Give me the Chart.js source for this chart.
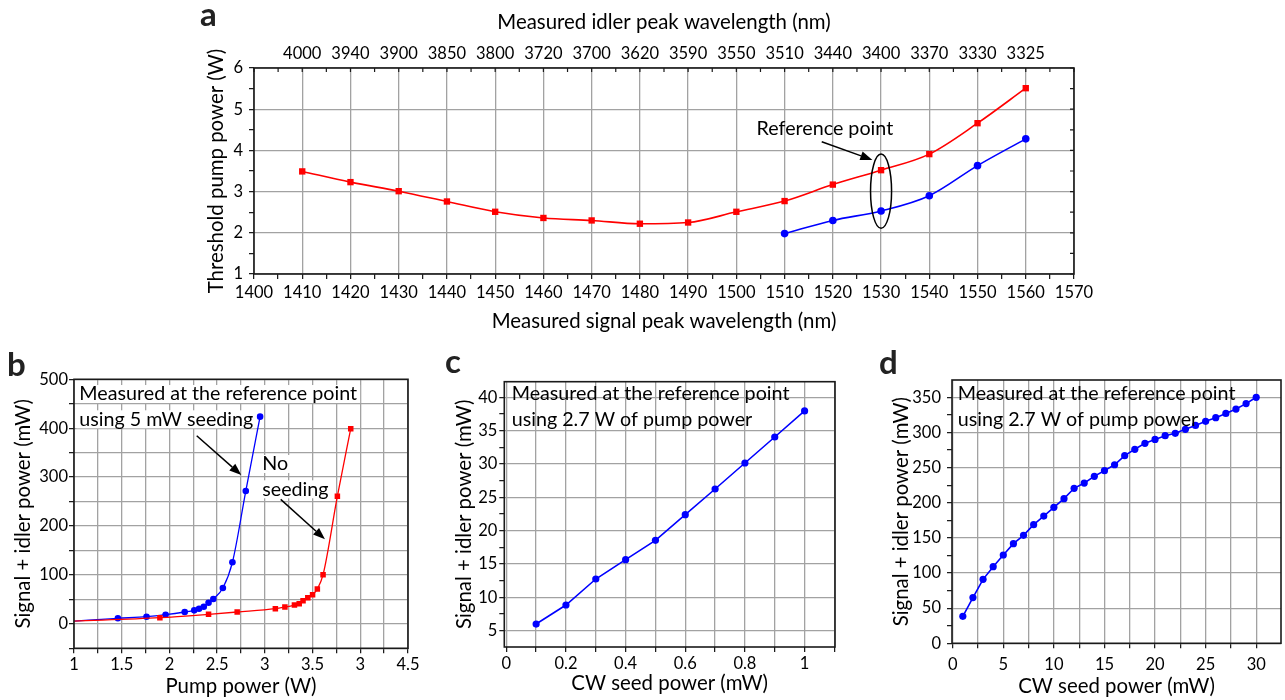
<!DOCTYPE html>
<html>
<head>
<meta charset="utf-8">
<script src="https://cdn.jsdelivr.net/npm/chart.js@4.4.1/dist/chart.umd.min.js"></script>
<style>
  body { margin: 0; background: #fff; width: 1285px; height: 700px; position: relative; overflow: hidden; }
  canvas { position: absolute; }
  .tag { position: absolute; font: bold 33px/32px Lato, sans-serif; color: #222; z-index: 5; }
</style>
</head>
<body>
<canvas id="chartA" width="1285" height="345" style="left:0;top:0"></canvas>
<canvas id="chartB" width="440" height="360" style="left:0;top:340px"></canvas>
<canvas id="chartC" width="420" height="360" style="left:440px;top:340px"></canvas>
<canvas id="chartD" width="425" height="360" style="left:860px;top:340px"></canvas>
<div class="tag" style="left:200px;top:-3px">a</div>
<div class="tag" style="left:7px;top:347px">b</div>
<div class="tag" style="left:445px;top:344px">c</div>
<div class="tag" style="left:879px;top:345px">d</div>
<script>
// (a) threshold pump power vs measured signal wavelength
const aSignalNm = [1410, 1420, 1430, 1440, 1450, 1460, 1470, 1480, 1490, 1500, 1510, 1520, 1530, 1540, 1550, 1560];
const aIdlerNm = ['4000', '3940', '3900', '3850', '3800', '3720', '3700', '3620', '3590', '3550', '3510', '3440', '3400', '3370', '3330', '3325'];
const aUnseeded = [3.49, 3.23, 3.01, 2.76, 2.51, 2.36, 2.30, 2.22, 2.25, 2.51, 2.77, 3.17, 3.52, 3.91, 4.66, 5.51];
const aSeededNm = [1510, 1520, 1530, 1540, 1550, 1560];
const aSeeded = [1.98, 2.30, 2.53, 2.90, 3.63, 4.28];
const aSignalTicks = [1400, 1410, 1420, 1430, 1440, 1450, 1460, 1470, 1480, 1490, 1500, 1510, 1520, 1530, 1540, 1550, 1560, 1570];
const aPowerTicks = [1, 2, 3, 4, 5, 6];

// (b) signal + idler power vs pump power
const bSeededPump = [1.0, 1.46, 1.76, 1.96, 2.16, 2.26, 2.31, 2.36, 2.41, 2.46, 2.56, 2.66, 2.80, 2.95];
const bSeeded = [5.5, 11.3, 14.6, 18.7, 24.2, 27.6, 30.9, 35, 43.2, 50.8, 73.3, 125.8, 271.5, 423.6];
const bUnseededPump = [1.0, 1.90, 2.41, 2.71, 3.11, 3.21, 3.31, 3.36, 3.40, 3.45, 3.50, 3.55, 3.61, 3.76, 3.90];
const bUnseeded = [5.5, 12.6, 19.5, 24.2, 31, 34.4, 38.5, 41.2, 47.3, 53.5, 59.6, 71.2, 100.5, 261, 399];
const bPumpTicks = [1, 1.5, 2, 2.5, 3, 3.5, 4, 4.5];
const bPumpLabels = ['1', '1.5', '2', '2.5', '3', '3.5', '3', '4.5'];
const bPowerTicks = [0, 100, 200, 300, 400, 500];

// (c) output vs CW seed power, 0.1-1 mW
const cSeed = [0.1, 0.2, 0.3, 0.4, 0.5, 0.6, 0.7, 0.8, 0.9, 1.0];
const cOutput = [6.0, 8.85, 12.75, 15.65, 18.55, 22.4, 26.25, 30.15, 34.05, 37.95];
const cSeedTicks = [0, 0.2, 0.4, 0.6, 0.8, 1];
const cOutputTicks = [5, 10, 15, 20, 25, 30, 35, 40];

// (d) output vs CW seed power, 1-30 mW
const dSeed = [1, 2, 3, 4, 5, 6, 7, 8, 9, 10, 11, 12, 13, 14, 15, 16, 17, 18, 19, 20, 21, 22, 23, 24, 25, 26, 27, 28, 29, 30];
const dOutput = [38.4, 65, 91, 109, 125.6, 141.8, 153.6, 168.8, 181, 193.5, 205.8, 220.5, 228, 237.6, 245.6, 254, 267, 276, 284.5, 290,
                 295.4, 298.7, 304.4, 310, 315.8, 321, 327, 333.3, 341, 350];
const dSeedTicks = [0, 5, 10, 15, 20, 25, 30];
const dOutputTicks = [0, 50, 100, 150, 200, 250, 300, 350];

const FONT = 'Lato, "Open Sans", sans-serif';
Chart.defaults.font.family = FONT;
Chart.defaults.color = '#000';
Chart.defaults.animation = false;

const GRID = '#a2a2a2';
const RED = '#ff0000';
const BLUE = '#0000ff';
const TICK_SIZE = 16.5;
const TITLE_SIZE = 20.4;
const NOTE_SIZE = 19.7;

// tick positions (grid + minor marks); labels come from the arrays above
function range(a, b, step) {
  return Array.from({ length: Math.round((b - a) / step) + 1 }, (_, i) => +(a + i * step).toFixed(6));
}
function labelFrom(values, labels) {
  return v => {
    const i = values.findIndex(t => Math.abs(t - v) < 1e-9);
    return i < 0 ? '' : (labels ? labels[i] : String(values[i]));
  };
}
const gridIfLabelled = ctx => (ctx.tick && ctx.tick.label !== '' ? GRID : 'rgba(0,0,0,0)');

function axis(o) {
  const vertical = o.position === 'left' || o.position === 'right';
  return {
    type: 'linear',
    position: o.position,
    min: o.min,
    max: o.max,
    afterBuildTicks: s => { s.ticks = o.ticks.map(v => ({ value: v })); },
    afterFit: s => { if (vertical) s.width = o.size; else s.height = o.size; },
    grid: {
      display: o.grid !== false,
      color: o.gridColor || GRID,
      lineWidth: 1.3,
      drawTicks: o.drawTicks !== false,
      tickLength: 5,
      tickColor: '#111',
      tickWidth: 1.2
    },
    border: { display: false },
    ticks: { autoSkip: false, maxRotation: 0, padding: o.pad, font: { size: TICK_SIZE }, callback: labelFrom(o.labelAt, o.labels) },
    title: o.title ? { display: true, text: o.title, padding: 0, font: { size: TITLE_SIZE } } : { display: false }
  };
}

const framePlugin = {
  id: 'frame',
  afterDatasetsDraw(chart, args, opts) {
    const { ctx, chartArea: a } = chart;
    ctx.save();
    ctx.strokeStyle = '#1a1a1a';
    ctx.lineWidth = 1.6;
    ctx.strokeRect(a.left, a.top, a.right - a.left, a.bottom - a.top);
    if (opts.mirror) {
      const { x, y } = chart.scales;
      ctx.lineWidth = 1.2;
      ctx.beginPath();
      x.ticks.forEach(t => { const p = x.getPixelForValue(t.value); ctx.moveTo(p, a.top); ctx.lineTo(p, a.top + 4); });
      y.ticks.forEach(t => { const p = y.getPixelForValue(t.value); ctx.moveTo(a.right, p); ctx.lineTo(a.right - 4, p); });
      ctx.stroke();
    }
    ctx.restore();
  }
};

const notesPlugin = {
  id: 'notes',
  afterDatasetsDraw(chart, args, opts) {
    const { ctx, scales: { x, y } } = chart;
    ctx.save();
    ctx.font = NOTE_SIZE + 'px ' + FONT;
    ctx.textBaseline = 'middle';
    (opts.texts || []).forEach(t => {
      const px = x.getPixelForValue(t.x), py = y.getPixelForValue(t.y);
      if (opts.boxed) {
        const w = ctx.measureText(t.text).width;
        ctx.fillStyle = '#fff';
        ctx.fillRect(px - 3, py - 9, w + 6, 18);
      }
      ctx.fillStyle = '#000';
      ctx.fillText(t.text, px, py);
    });
    ctx.strokeStyle = '#000';
    ctx.fillStyle = '#000';
    ctx.lineWidth = 1.5;
    (opts.arrows || []).forEach(([x0, y0, x1, y1]) => {
      const p0 = [x.getPixelForValue(x0), y.getPixelForValue(y0)];
      const p1 = [x.getPixelForValue(x1), y.getPixelForValue(y1)];
      const ang = Math.atan2(p1[1] - p0[1], p1[0] - p0[0]);
      const len = 12, half = 4.5;
      const bx = p1[0] - len * Math.cos(ang), by = p1[1] - len * Math.sin(ang);
      ctx.beginPath();
      ctx.moveTo(p0[0], p0[1]);
      ctx.lineTo(bx, by);
      ctx.stroke();
      ctx.beginPath();
      ctx.moveTo(p1[0], p1[1]);
      ctx.lineTo(bx + half * Math.sin(ang), by - half * Math.cos(ang));
      ctx.lineTo(bx - half * Math.sin(ang), by + half * Math.cos(ang));
      ctx.closePath();
      ctx.fill();
    });
    if (opts.ring) {
      const r = opts.ring;
      const cx = x.getPixelForValue(r.x), cy = y.getPixelForValue(r.y);
      const rx = Math.abs(x.getPixelForValue(r.x + r.rx) - cx);
      const ry = Math.abs(y.getPixelForValue(r.y + r.ry) - cy);
      ctx.beginPath();
      ctx.ellipse(cx, cy, rx, ry, 0, 0, Math.PI * 2);
      ctx.stroke();
    }
    ctx.restore();
  }
};

function series(xs, ys, color, style, radius, extra) {
  return Object.assign({
    data: xs.map((x, i) => ({ x, y: ys[i] })),
    showLine: true,
    borderColor: color,
    backgroundColor: color,
    borderWidth: 1.6,
    pointStyle: style,
    pointRadius: radius,
    pointBorderWidth: 0,
    pointBackgroundColor: color
  }, extra || {});
}

// ---- a ----
new Chart(document.getElementById('chartA'), {
  type: 'scatter',
  data: {
    datasets: [
      series(aSignalNm, aUnseeded, RED, 'rect', 4.5, { cubicInterpolationMode: 'monotone' }),
      series(aSeededNm, aSeeded, BLUE, 'circle', 3.8, { cubicInterpolationMode: 'monotone' })
    ]
  },
  options: {
    responsive: false,
    layout: { padding: { left: 204.3, right: 211, top: 10.5, bottom: 11.1 } },
    scales: {
      x: axis({ position: 'bottom', min: 1400, max: 1570, ticks: range(1400, 1570, 5), labelAt: aSignalTicks,
                size: 59.9, pad: 3.8, gridColor: gridIfLabelled, title: 'Measured signal peak wavelength (nm)' }),
      x2: axis({ position: 'top', min: 1400, max: 1570, ticks: aSignalNm, labelAt: aSignalNm, labels: aIdlerNm,
                 size: 57.5, pad: 4.1, grid: false, drawTicks: false, title: 'Measured idler peak wavelength (nm)' }),
      y: axis({ position: 'left', min: 1, max: 6, ticks: range(1, 6, 0.5), labelAt: aPowerTicks,
                size: 49.7, pad: 6, gridColor: gridIfLabelled, title: 'Threshold pump power (W)' })
    },
    plugins: {
      legend: { display: false },
      tooltip: { enabled: false },
      frame: { mirror: true },
      notes: {
        texts: [{ x: 1504.2, y: 4.52, text: 'Reference point' }],
        arrows: [[1517.7, 4.21, 1528.2, 3.77]],
        ring: { x: 1530, y: 3.01, rx: 2.18, ry: 0.9 }
      }
    }
  },
  plugins: [framePlugin, notesPlugin]
});

// ---- b ----
const hideFirst = r => ctx => (ctx.dataIndex === 0 ? 0 : r);
new Chart(document.getElementById('chartB'), {
  type: 'scatter',
  data: {
    datasets: [
      series(bUnseededPump, bUnseeded, RED, 'rect', hideFirst(3.9), { cubicInterpolationMode: 'monotone', borderWidth: 1.3 }),
      series(bSeededPump, bSeeded, BLUE, 'circle', hideFirst(3.3), { cubicInterpolationMode: 'monotone', borderWidth: 1.3 })
    ]
  },
  options: {
    responsive: false,
    layout: { padding: { left: 11.1, right: 32, top: 39.3, bottom: 1.1 } },
    scales: {
      x: axis({ position: 'bottom', min: 1, max: 4.5, ticks: range(1, 4.5, 0.25), labelAt: bPumpTicks, labels: bPumpLabels,
                size: 50.6, pad: 1.8, title: 'Pump power (W)' }),
      y: axis({ position: 'left', min: -50, max: 500, ticks: range(-50, 500, 50), labelAt: bPowerTicks,
                size: 62.9, pad: 1, title: 'Signal + idler power (mW)' })
    },
    plugins: {
      legend: { display: false },
      tooltip: { enabled: false },
      notes: {
        boxed: true,
        texts: [
          { x: 1.056, y: 469.9, text: 'Measured at the reference point' },
          { x: 1.056, y: 418.2, text: 'using 5 mW seeding' },
          { x: 2.973, y: 326.8, text: 'No' },
          { x: 2.973, y: 275.1, text: 'seeding' }
        ],
        arrows: [[2.286, 384.7, 2.753, 304.3], [3.166, 254.6, 3.630, 172.9]]
      }
    }
  },
  plugins: [framePlugin, notesPlugin]
});

// ---- c ----
new Chart(document.getElementById('chartC'), {
  type: 'scatter',
  data: { datasets: [series(cSeed, cOutput, BLUE, 'circle', 3.6)] },
  options: {
    responsive: false,
    layout: { padding: { left: 12, right: 25, top: 41.7, bottom: 4.5 } },
    scales: {
      x: axis({ position: 'bottom', min: -0.0067, max: 1.102, ticks: range(0, 1.1, 0.1), labelAt: cSeedTicks,
                size: 48.5, pad: 1.4, title: 'CW seed power (mW)' }),
      y: axis({ position: 'left', min: 2.555, max: 42.34, ticks: range(5, 40, 2.5), labelAt: cOutputTicks,
                size: 52.3, pad: 2, gridColor: gridIfLabelled, title: 'Signal + idler power (mW)' })
    },
    plugins: {
      legend: { display: false },
      tooltip: { enabled: false },
      notes: {
        texts: [
          { x: 0.018, y: 40.5, text: 'Measured at the reference point' },
          { x: 0.018, y: 36.6, text: 'using 2.7 W of pump power' }
        ]
      }
    }
  },
  plugins: [framePlugin, notesPlugin]
});

// ---- d ----
new Chart(document.getElementById('chartD'), {
  type: 'scatter',
  data: { datasets: [series(dSeed, dOutput, BLUE, 'circle', 3.6)] },
  options: {
    responsive: false,
    layout: { padding: { left: 29.5, right: 1.7, top: 40, bottom: 1.1 } },
    scales: {
      x: axis({ position: 'bottom', min: -0.07, max: 32.45, ticks: range(0, 30, 2.5), labelAt: dSeedTicks,
                size: 55.6, pad: 6.8, title: 'CW seed power (mW)' }),
      y: axis({ position: 'left', min: 0, max: 374.6, ticks: range(0, 350, 25), labelAt: dOutputTicks,
                size: 62.5, pad: 6, gridColor: gridIfLabelled, title: 'Signal + idler power (mW)' })
    },
    plugins: {
      legend: { display: false },
      tooltip: { enabled: false },
      notes: {
        texts: [
          { x: 0.49, y: 354.7, text: 'Measured at the reference point' },
          { x: 0.49, y: 317.7, text: 'using 2.7 W of pump power' }
        ]
      }
    }
  },
  plugins: [framePlugin, notesPlugin]
});
</script>
</body>
</html>
